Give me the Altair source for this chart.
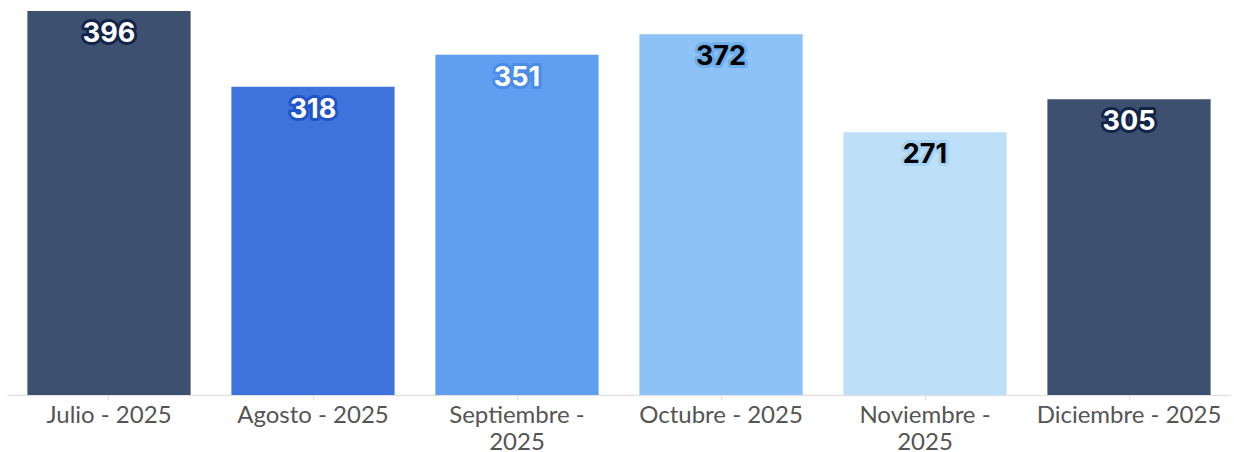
import altair as alt
import pandas as pd

months = ["Julio - 2025", "Agosto - 2025", "Septiembre - 2025", "Octubre - 2025", "Noviembre - 2025", "Diciembre - 2025"]
values = [396, 318, 351, 372, 271, 305]
bar_colors = ["#3d5070", "#3e72dd", "#5f9ff0", "#8cc2f5", "#bde0f8", "#3d5070"]
halo_colors = ["#14254a", "#1f55c8", "#4a8ce6", "#6eaeea", "#a6d2f3", "#14254a"]
text_colors = ["#ffffff", "#ffffff", "#ffffff", "#000000", "#000000", "#ffffff"]

df = pd.DataFrame({
    "mes": months,
    "valor": values,
    "color": bar_colors,
    "halo": halo_colors,
    "tcolor": text_colors,
})

x = alt.X(
    "mes:N",
    sort=months,
    title=None,
    scale=alt.Scale(paddingInner=0.2, paddingOuter=0.1),
    axis=alt.Axis(
        labelAngle=0,
        labelFont="Lato",
        labelFontSize=24,
        labelColor="#555555",
        labelPadding=3,
        labelLineHeight=27,
        labelLimit=400,
        labelExpr="datum.label == 'Septiembre - 2025' ? ['Septiembre -', '2025'] : datum.label == 'Noviembre - 2025' ? ['Noviembre -', '2025'] : datum.label",
        tickColor="#dddddd",
        tickSize=5,
        domainColor="#e2e2e2",
        domainWidth=1.5,
        grid=False,
    ),
)
y = alt.Y("valor:Q", title=None, scale=alt.Scale(domain=[0, 396], nice=False), axis=None)

bars = alt.Chart(df).mark_bar().encode(x=x, y=y, color=alt.Color("color:N", scale=None))

halo = alt.Chart(df).mark_text(
    font="Inter", fontSize=27, fontWeight="bold", baseline="middle", dy=23, strokeWidth=6, strokeJoin="round"
).encode(
    x=alt.X("mes:N", sort=months),
    y=y,
    text="valor:Q",
    fill=alt.Color("halo:N", scale=None),
    stroke=alt.Color("halo:N", scale=None),
)

labels = alt.Chart(df).mark_text(
    font="Inter", fontSize=27, fontWeight="bold", baseline="middle", dy=23
).encode(
    x=alt.X("mes:N", sort=months),
    y=y,
    text="valor:Q",
    fill=alt.Color("tcolor:N", scale=None),
)

chart = alt.layer(bars, halo, labels).properties(
    width=1224,
    height=384,
    padding={"left": 7, "top": 11, "right": 3, "bottom": 57},
    autosize=alt.AutoSizeParams(type="none"),
    background="white",
).configure_view(stroke=None)

chart.save("out.html", embed_options={"renderer": "svg", "actions": False})
